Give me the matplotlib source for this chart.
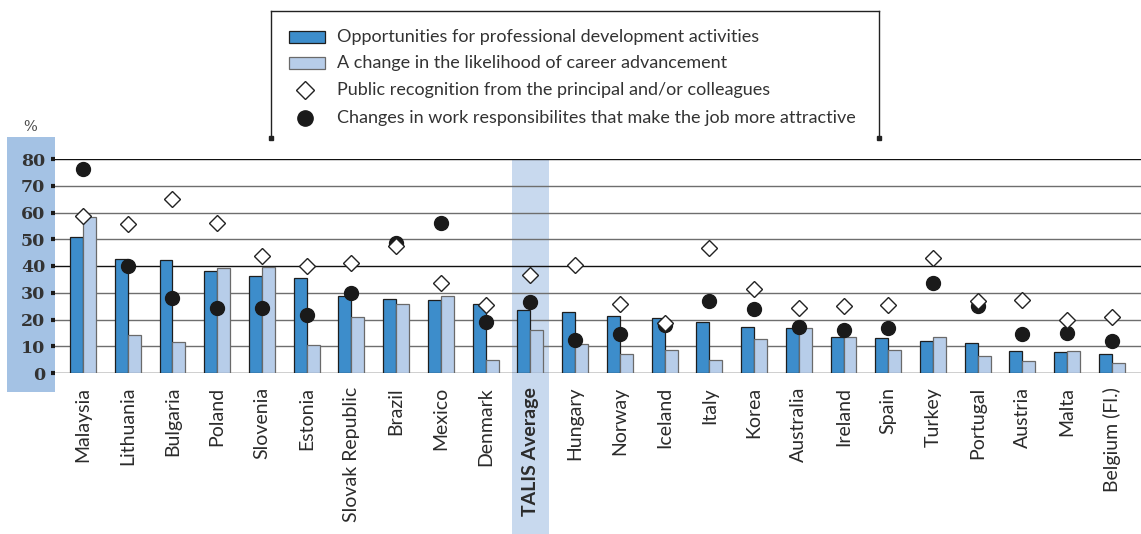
import matplotlib.pyplot as plt
from matplotlib.patches import Rectangle
from matplotlib.lines import Line2D

countries = ['Malaysia', 'Lithuania', 'Bulgaria', 'Poland', 'Slovenia', 'Estonia',
             'Slovak Republic', 'Brazil', 'Mexico', 'Denmark', 'TALIS Average',
             'Hungary', 'Norway', 'Iceland', 'Italy', 'Korea', 'Australia', 'Ireland',
             'Spain', 'Turkey', 'Portugal', 'Austria', 'Malta', 'Belgium (Fl.)']

prof_dev = [50.8, 42.5, 42.2, 38.3, 36.3, 35.5, 28.8, 27.8, 27.2, 25.7, 23.7,
            22.7, 21.3, 20.4, 19.2, 17.1, 16.7, 13.5, 13.2, 12.1, 11.2, 8.1, 7.9, 7.1]
career_adv = [58.3, 14.3, 11.7, 39.3, 39.5, 10.5, 20.9, 25.7, 28.7, 4.7, 16.2,
              10.7, 7.0, 8.6, 4.9, 12.7, 16.8, 13.3, 8.6, 13.5, 6.2, 4.6, 8.2, 3.7]
recognition = [58.8, 55.7, 65.0, 56.0, 43.6, 40.0, 41.0, 47.4, 33.5, 25.5, 36.6,
               40.5, 25.8, 18.7, 46.6, 31.4, 24.4, 25.0, 25.4, 42.9, 26.8, 27.3, 19.7, 21.0]
responsib = [76.4, 39.9, 28.0, 24.4, 24.4, 21.6, 30.0, 48.6, 56.0, 18.9, 26.7,
             12.3, 14.5, 18.0, 27.0, 24.0, 17.3, 15.9, 16.7, 33.6, 25.2, 14.7, 15.1, 11.8]

yticks = [0, 10, 20, 30, 40, 50, 60, 70, 80]

dark_blue = '#3d8dcb'
light_blue = '#b7cde9'
text_col = '#2b2b2b'

fig = plt.figure(figsize=(11.41, 5.34), dpi=100)
W, H = 1141, 534

def fx(px):
    return px / W

def fy(py):
    return 1 - py / H

ax = fig.add_axes([fx(55), fy(373), 1 - fx(55), (373 - 159) / H])

x = list(range(len(countries)))
bw = 0.29
talis = countries.index('TALIS Average')

# highlight column for the average, running down behind the label
ax.add_patch(Rectangle((talis - 0.42, -0.75), 0.84, 1.75, transform=ax.get_xaxis_transform(),
                       facecolor='#c8d9ee', edgecolor='none', clip_on=False, zorder=0))

for v in yticks:
    ax.axhline(v, color='#111111' if v in (0, 40, 80) else '#6e6e6e', lw=1.0, zorder=1)

ax.bar([i - bw / 2 for i in x], prof_dev, width=bw, color=dark_blue,
       edgecolor='#1e1e1e', linewidth=0.9, zorder=2)
ax.bar([i + bw / 2 for i in x], career_adv, width=bw, color=light_blue,
       edgecolor='#6a6a6a', linewidth=0.9, zorder=2)
ax.plot(x, responsib, 'o', ms=10, color='#1a1a1a', zorder=3)
ax.plot(x, recognition, 'D', ms=8.3, mfc='white', mec='#222222', mew=1.0, zorder=4)

ax.set_xlim(-0.626, 23.65)
ax.set_ylim(0, 80)
for s in ax.spines.values():
    s.set_visible(False)

ax.set_yticks(yticks)
ax.set_yticklabels([str(v) for v in yticks], family='DejaVu Serif',
                   fontweight='bold', fontsize=12.5, color='#333333')
ax.tick_params(axis='y', length=3, width=3, color='#1a1a1a', pad=4)

ax.set_xticks(x)
ax.set_xticklabels(countries, rotation=90, family='Lato', fontsize=14, color=text_col,
                   va='top', ha='center')
ax.tick_params(axis='x', length=0, pad=10)
ax.get_xticklabels()[talis].set_fontweight('bold')

# blue band behind the y tick labels
fig.add_artist(Rectangle((fx(7), fy(392)), fx(48), (392 - 137) / H,
                         facecolor='#a4c2e4', edgecolor='none', zorder=0))
fig.text(fx(30), fy(127), '%', ha='center', va='center', family='DejaVu Serif',
         fontsize=10.5, color='#444444')

# legend box: open at the bottom, small squares at the line ends
lx0, lx1, ly0, ly1 = 271, 879, 11, 138
for xx in (lx0, lx1):
    fig.add_artist(Line2D([fx(xx), fx(xx)], [fy(ly0), fy(ly1)], color='#222222', lw=1.0))
    fig.add_artist(Line2D([fx(xx)], [fy(ly1)], marker='s', ms=3.5, color='#222222'))
fig.add_artist(Line2D([fx(lx0), fx(lx1)], [fy(ly0), fy(ly0)], color='#222222', lw=1.0))

labels = ['Opportunities for professional development activities',
          'A change in the likelihood of career advancement',
          'Public recognition from the principal and/or colleagues',
          'Changes in work responsibilites that make the job more attractive']
rows = [37, 63, 90, 118]
fig.add_artist(Rectangle((fx(289), fy(rows[0] + 6)), fx(36), 12 / H,
                         facecolor=dark_blue, edgecolor='#1e1e1e', lw=0.9))
fig.add_artist(Rectangle((fx(289), fy(rows[1] + 6)), fx(36), 12 / H,
                         facecolor=light_blue, edgecolor='#6a6a6a', lw=0.9))
fig.add_artist(Line2D([fx(305)], [fy(rows[2])], marker='D', ms=9, mfc='white',
                      mec='#222222', mew=1.0))
fig.add_artist(Line2D([fx(305)], [fy(rows[3])], marker='o', ms=11, color='#1a1a1a'))
for r, lab in zip(rows, labels):
    fig.text(fx(337), fy(r), lab, ha='left', va='center', family='Lato',
             fontsize=13, color='#333333')

fig.savefig('out.png', dpi=100)
